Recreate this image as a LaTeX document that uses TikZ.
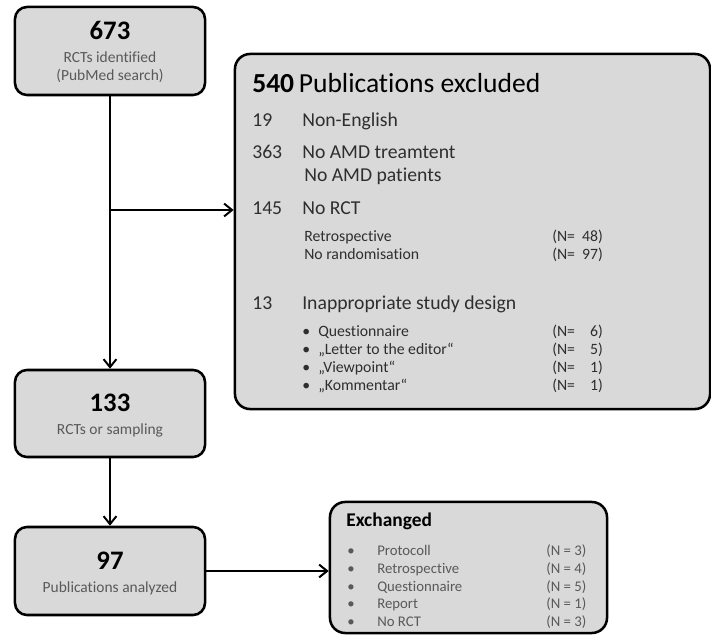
\documentclass[tikz,border=0pt]{standalone}
\usepackage{fontspec}
\setmainfont[Ligatures=NoCommon]{Carlito}
\usetikzlibrary{arrows.meta,positioning}
\definecolor{boxgray}{HTML}{D9D9D9}
\definecolor{subgray}{HTML}{595959}
\definecolor{itemgray}{HTML}{2E2E2E}
\tikzset{
	flowbox/.style={draw,line width=1.8pt,fill=boxgray,rounded corners=0.3cm,inner sep=0pt},
	flowarrow/.style={line width=1.4pt,-{Straight Barb[length=0.2cm,width=0.32cm,line width=1.4pt]}},
	bignum/.style={font=\fontsize{19}{22}\selectfont\bfseries,anchor=base},
	subtext/.style={font=\fontsize{11}{13}\selectfont,text=subgray,anchor=base},
	item/.style={font=\fontsize{14}{16}\selectfont,text=itemgray,anchor=base west,inner sep=0pt},
	smallitem/.style={font=\fontsize{11.2}{13}\selectfont,text=itemgray,anchor=base west,inner sep=0pt},
	exitem/.style={font=\fontsize{10.5}{12}\selectfont,text=subgray,anchor=base west,inner sep=0pt}
}
\begin{document}
\begin{tikzpicture}[x=0.025cm,y=-0.025cm]
	\useasboundingbox (0,0) rectangle (711,635);
	% boxes
	\node[flowbox,minimum width=4.75cm,minimum height=2.2cm] (identified) at (110,51) {};
	\node[flowbox,minimum width=4.75cm,minimum height=2.175cm] (sampling) at (110,413.5) {};
	\node[flowbox,minimum width=4.75cm,minimum height=2.2cm] (analyzed) at (110,571) {};
	\node[flowbox,rounded corners=0.38cm,minimum width=11.875cm,minimum height=8.875cm] (excluded) at (472.5,231.5) {};
	\node[flowbox,rounded corners=0.38cm,minimum width=6.925cm,minimum height=3.275cm] (exchanged) at (468.5,567.5) {};
	% connectors
	\coordinate (branch) at (110,210);
	\draw[flowarrow] (identified) -- (sampling);
	\draw[flowarrow] (branch) -- (branch -| excluded.west);
	\draw[flowarrow] (sampling) -- (analyzed);
	\draw[flowarrow] (analyzed.east) -- (analyzed.east -| exchanged.west);
	% left column
	\node[bignum] (n673) at (110,40) {673};
	\node[subtext] (t673a) at (110,63) {RCTs identified};
	\node[subtext] (t673b) at (110,81) {(PubMed search)};
	\node[bignum] (n133) at (110,412) {133};
	\node[subtext] (t133) at (110,435) {RCTs or sampling};
	\node[bignum] (n97) at (110,569) {97};
	\node[subtext] (t97) at (110,592) {Publications analyzed};
	% excluded publications
	\node[anchor=base west,inner sep=0pt,font=\fontsize{19.6}{22}\selectfont] (title540) at (252,93) {\textbf{540}\,Publications excluded};
	\node[item] (n19) at (252,127) {19};
	\node[item] (t19) at (302,127) {Non-English};
	\node[item] (n363) at (252,159) {363};
	\node[item] (t363a) at (302,159) {No AMD treamtent};
	\node[item] (t363b) at (304,182) {No AMD patients};
	\node[item] (n145) at (252,215) {145};
	\node[item] (t145) at (302,215) {No RCT};
	\node[smallitem] (retro) at (304,242) {Retrospective};
	\node[smallitem] (retroN) at (552,242) {(N=\ \ 48)};
	\node[smallitem] (norand) at (304,260) {No randomisation};
	\node[smallitem] (norandN) at (552,260) {(N=\ \ 97)};
	\node[item] (n13) at (252,310) {13};
	\node[item] (t13) at (302,310) {Inappropriate study design};
	\foreach \y/\txt/\num [count=\i] in {337/Questionnaire/6,355/„Letter to the editor“/5,373/„Viewpoint“/1,391/„Kommentar“/1}{
		\node[smallitem] (bul\i) at (302,\y) {\textbullet};
		\node[smallitem] (des\i) at (318,\y) {\txt};
		\node[smallitem] (num\i) at (552,\y) {(N=\ \ \phantom{0}\num)};
	}
	% exchanged
	\node[anchor=base west,inner sep=0pt,font=\fontsize{13.8}{16}\selectfont\bfseries] (extitle) at (346,527) {Exchanged};
	\foreach \y/\txt/\num [count=\i] in {556/Protocoll/3,573/Retrospective/4,591/Questionnaire/5,608/Report/1,626/No RCT/3}{
		\node[exitem] (exbul\i) at (347,\y) {\textbullet};
		\node[exitem] (extxt\i) at (377,\y) {\txt};
		\node[exitem] (exnum\i) at (546,\y) {(N = \num)};
	}
\end{tikzpicture}
\end{document}
